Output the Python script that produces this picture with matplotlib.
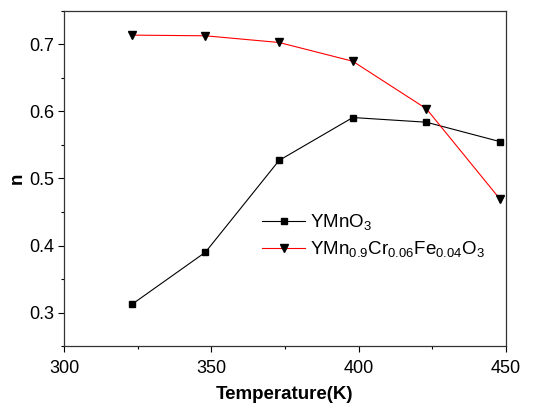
import matplotlib
matplotlib.use("Agg")
import matplotlib.pyplot as plt
from matplotlib.ticker import MultipleLocator

plt.rcParams['font.family'] = ['Liberation Sans', 'DejaVu Sans']
plt.rcParams['mathtext.fontset'] = 'custom'
plt.rcParams['mathtext.rm'] = 'Liberation Sans'

temperature = [323, 348, 373, 398, 423, 448]
n_ymno3 = [0.312, 0.390, 0.527, 0.591, 0.584, 0.555]
n_doped = [0.714, 0.713, 0.703, 0.675, 0.604, 0.469]
label_ymno3 = r'YMnO$_3$'
label_doped = r'YMn$_{0.9}$Cr$_{0.06}$Fe$_{0.04}$O$_3$'

fig = plt.figure(figsize=(5.34, 4.07), dpi=100)
ax = fig.add_axes([64/534, 1 - 346/407, 442/534, 335/407])

ax.plot(temperature, n_ymno3, color='black', lw=0.8, marker='s', ms=4.6,
        mfc='black', mec='black', label=label_ymno3)
ax.plot(temperature, n_doped, color='#ff0000', lw=0.8, marker='v', ms=6.2,
        mfc='black', mec='black', label=label_doped)

ax.set_xlim(300, 450)
ax.set_ylim(0.25, 0.75)
ax.xaxis.set_major_locator(MultipleLocator(50))
ax.xaxis.set_minor_locator(MultipleLocator(25))
ax.yaxis.set_major_locator(MultipleLocator(0.1))
ax.yaxis.set_minor_locator(MultipleLocator(0.05))
ax.tick_params(which='both', direction='out', top=False, right=False,
               labelsize=13, width=0.8)
ax.tick_params(axis='x', pad=6)
ax.tick_params(axis='y', pad=2.5)
ax.tick_params(which='major', length=4.3)
ax.tick_params(which='minor', length=2.2)
for s in ax.spines.values():
    s.set_linewidth(0.9)
    s.set_color('#333333')

ax.set_xlabel('Temperature(K)', fontsize=13.5, fontweight='bold', labelpad=6)
ax.set_ylabel('n', fontsize=13.5, fontweight='bold', labelpad=3)

ax.legend(loc='center left', bbox_to_anchor=(0.448, 0.327), frameon=False,
          fontsize=13.5, handlelength=2.3, handletextpad=0.25,
          labelspacing=0.35, borderaxespad=0, borderpad=0)

fig.savefig('out.png', dpi=100)
